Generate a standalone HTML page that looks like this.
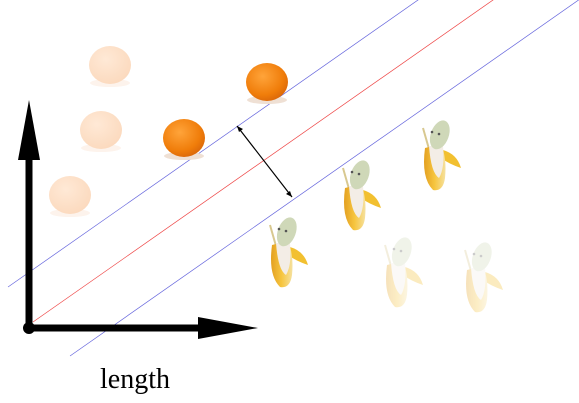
<!DOCTYPE html>
<html><head><meta charset="utf-8"><style>html,body{margin:0;padding:0;background:#fff;}svg{display:block}</style></head>
<body>
<svg width="579" height="403" viewBox="0 0 579 403" font-family="Liberation Serif, serif">
<defs>
<radialGradient id="og" cx="0.4" cy="0.35" r="0.7"><stop offset="0" stop-color="#ffa43a"/><stop offset="0.7" stop-color="#f07d0a"/><stop offset="1" stop-color="#d9660a"/></radialGradient>
<radialGradient id="ogf" cx="0.4" cy="0.35" r="0.7"><stop offset="0" stop-color="#ffe9d6"/><stop offset="1" stop-color="#fbd9bd"/></radialGradient>
<linearGradient id="bn" x1="0" y1="0" x2="1" y2="0"><stop offset="0" stop-color="#e3a021"/><stop offset="0.5" stop-color="#f7c640"/><stop offset="1" stop-color="#f5e1a0"/></linearGradient>
</defs>
<text x="108" y="-10" font-family="Liberation Sans, sans-serif" font-size="48" fill="#999">g</text>
<g id="marks"></g>
<line x1="237" y1="126" x2="292" y2="197" stroke="#000" stroke-width="1.2"/>
<polygon points="237,126 243,129 239,132" fill="#000"/>
<polygon points="292,197 286,194 290,191" fill="#000"/>
<g>
<rect x="25.5" y="155" width="7" height="173" fill="#000"/>
<polygon points="29,100 18,160 40,160" fill="#000"/>
</g>
<g>
<rect x="29" y="324.5" width="172" height="7" fill="#000"/>
<polygon points="258,328 198,317 198,339" fill="#000"/>
</g>
<circle cx="29" cy="328" r="6" fill="#000"/>
<text x="135" y="388" text-anchor="middle" font-size="28" fill="#000">length</text>
</svg>
<script>
const lineOffsets=[0,1,2];
const lineColors=['#6666dd','#ee4444','#6666dd'];
const lineStarts=[[8,287],[33,322],[70,356]];
const slope=-0.70;
const oranges=[[110,65,1],[101,130,1],[70,195,1],[267,82,0],[184,138,0]];
const bananas=[[282,245,0],[355,188,0],[435,148,0],[397,265,1],[477,270,1]];
const ns='http://www.w3.org/2000/svg';
const g=document.getElementById('marks');
function mk(t,a,p){const e=document.createElementNS(ns,t);for(const k in a)e.setAttribute(k,a[k]);(p||g).appendChild(e);return e;}
lineOffsets.forEach(i=>{const [x0,y0]=lineStarts[i];const x1=579,y1=y0+slope*(x1-x0);
const l=mk('line',{x1:x0,y1:y0,x2:x1,y2:y1,stroke:lineColors[i],'stroke-width':0.7});

});
oranges.forEach(o=>{const gr=mk('g',{opacity:1});


mk('ellipse',{cx:o[0],cy:o[1]+18,rx:20,ry:4,fill:o[2]?'#fdf3ec':'#efe0d4'},gr);
mk('ellipse',{cx:o[0],cy:o[1],rx:21,ry:19,fill:o[2]?'url(#ogf)':'url(#og)'},gr);});
bananas.forEach(b=>{const [x,y,f]=b;const gr=mk('g',{opacity:f?0.3:1,transform:'translate('+x+','+y+')'});


mk('path',{d:'M-12,-20 L-4,8',stroke:'#d8c890','stroke-width':2,fill:'none'},gr);
mk('path',{d:'M8,2 Q22,6 26,20 Q14,16 6,10Z',fill:'#f2c030'},gr);
mk('path',{d:'M-10,0 Q-14,30 -2,42 Q8,44 10,30 Q12,10 6,-4Z',fill:'url(#bn)'},gr);
mk('path',{d:'M-6,-2 Q-4,25 4,30 Q10,20 8,-2Z',fill:'#f3ede6'},gr);
mk('ellipse',{cx:0,cy:-14,rx:9,ry:15,fill:'#cfd8b8',transform:'rotate(20)'},gr);
mk('circle',{cx:-3,cy:-16,r:1.3,fill:'#555'},gr);mk('circle',{cx:4,cy:-14,r:1.3,fill:'#555'},gr);});
</script>
</body></html>
